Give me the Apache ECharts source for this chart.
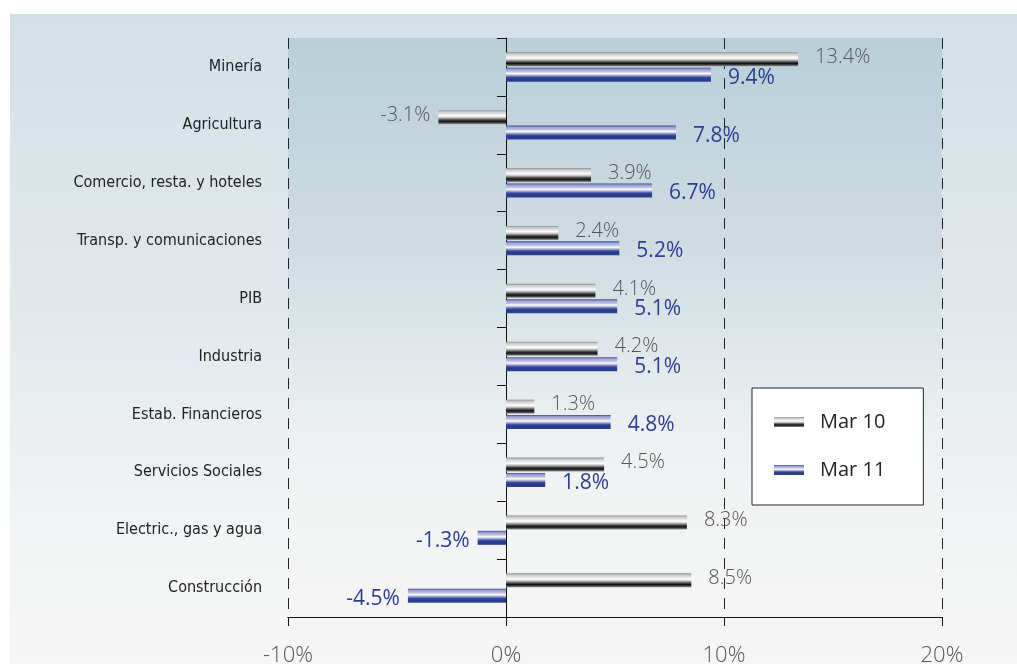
<!DOCTYPE html>
<html>
<head>
<meta charset="utf-8">
<script src="https://cdn.jsdelivr.net/npm/echarts@6/dist/echarts.min.js"></script>
<style>
  html, body { margin: 0; padding: 0; background: #ffffff; }
  #wrap { position: relative; width: 1017px; height: 664px; }
  #panel {
    position: absolute; left: 10px; top: 14px; right: 0; bottom: 0;
    background: linear-gradient(to bottom, #d4e0e7 0%, #e1e8ec 45%, #f2f4f5 80%, #f6f6f6 100%);
  }
  #chart { position: absolute; left: 0; top: 0; width: 1017px; height: 664px; }
</style>
</head>
<body>
<div id="wrap">
  <div id="panel"></div>
  <div id="chart"></div>
</div>
<script>
// Sectors, top to bottom
const categories = [
  'Minería', 'Agricultura', 'Comercio, resta. y hoteles', 'Transp. y comunicaciones',
  'PIB', 'Industria', 'Estab. Financieros', 'Servicios Sociales',
  'Electric., gas y agua', 'Construcción'
];
// Annual growth, %
const mar10 = [13.4, -3.1, 3.9, 2.4, 4.1, 4.2, 1.3, 4.5, 8.3, 8.5];
const mar11 = [9.4, 7.8, 6.7, 5.2, 5.1, 5.1, 4.8, 1.8, -1.3, -4.5];
const seriesNames = ['Mar 10', 'Mar 11'];
const axisTicks = [-10, 0, 10, 20];

const greyBar = {
  type: 'linear', x: 0, y: 0, x2: 0, y2: 1,
  colorStops: [
    { offset: 0, color: '#8e8e8e' }, { offset: 0.12, color: '#c9c9c9' },
    { offset: 0.3, color: '#e9e9e9' }, { offset: 0.42, color: '#ffffff' },
    { offset: 0.55, color: '#bdbdbd' }, { offset: 0.68, color: '#555555' },
    { offset: 0.8, color: '#111111' }, { offset: 0.9, color: '#444444' },
    { offset: 1, color: '#9a9a9a' }
  ]
};
const blueBar = {
  type: 'linear', x: 0, y: 0, x2: 0, y2: 1,
  colorStops: [
    { offset: 0, color: '#3a4a9a' }, { offset: 0.12, color: '#9a9fcc' },
    { offset: 0.3, color: '#c2c4e2' }, { offset: 0.42, color: '#ffffff' },
    { offset: 0.55, color: '#a9acd5' }, { offset: 0.68, color: '#3d4fa0' },
    { offset: 0.8, color: '#25398f' }, { offset: 1, color: '#2f4294' }
  ]
};

function withLabels(values, offsetY) {
  return values.map(v => ({
    value: v,
    label: {
      position: v < 0 ? 'left' : 'right',
      distance: v < 0 ? 8 : 17,
      offset: [0, offsetY]
    }
  }));
}

const valueRange = {
  type: 'value',
  min: axisTicks[0], max: axisTicks[axisTicks.length - 1], interval: 10
};

const chart = echarts.init(document.getElementById('chart'), null, { renderer: 'canvas' });

chart.setOption({
  animation: false,
  backgroundColor: 'transparent',
  grid: {
    left: 288, right: 75, top: 38, bottom: 47,
    outerBoundsMode: 'none',
    containLabel: false,
    show: true, borderWidth: 0,
    backgroundColor: {
      type: 'linear', x: 0, y: 0, x2: 0, y2: 1,
      colorStops: [
        { offset: 0, color: '#b9cfd8' }, { offset: 0.35, color: '#cedce2' },
        { offset: 0.7, color: '#eef1f2' }, { offset: 1, color: '#f5f5f5' }
      ]
    }
  },
  legend: {
    data: seriesNames,
    orient: 'vertical',
    left: 752, top: 388,
    itemWidth: 30, itemHeight: 10, itemGap: 28,
    icon: 'rect',
    backgroundColor: '#ffffff',
    borderColor: '#222222', borderWidth: 1,
    padding: [24, 38, 25, 22],
    textStyle: { fontFamily: 'Open Sans', fontSize: 20, color: '#222222', padding: [0, 0, 0, 11] }
  },
  xAxis: [
    Object.assign({}, valueRange, {
      position: 'bottom',
      z: 1,
      axisLine: { show: true, onZero: false, lineStyle: { color: '#111111', width: 1 } },
      axisTick: { show: true, length: 9, lineStyle: { color: '#111111' } },
      axisLabel: {
        formatter: v => v + '%',
        fontFamily: 'Open Sans', fontWeight: 300, fontSize: 22, lineHeight: 16,
        color: '#555555', margin: 31
      },
      splitLine: { show: true, lineStyle: { color: '#222222', width: 1, type: [11, 9] } }
    }),
    // baseline and tick marks along the bottom edge
    Object.assign({}, valueRange, {
      position: 'bottom',
      z: 1,
      axisLine: { show: true, onZero: false, lineStyle: { color: '#111111', width: 1 } },
      axisTick: { show: true, length: 9, lineStyle: { color: '#111111' } },
      axisLabel: { show: false },
      splitLine: { show: false }
    })
  ],
  yAxis: {
    type: 'category',
    data: categories,
    inverse: true,
    z: 1,
    axisLine: { show: true, onZero: true, lineStyle: { color: '#111111', width: 1 } },
    axisTick: { show: true, length: 9, lineStyle: { color: '#111111' } },
    axisLabel: {
      margin: 26,
      fontFamily: '"DejaVu Sans Condensed", sans-serif',
      fontSize: 16, color: '#222222'
    }
  },
  series: [
    {
      name: seriesNames[0], type: 'bar',
      xAxisIndex: 0,
      data: withLabels(mar10, -2),
      barWidth: 14, barGap: '10%',
      itemStyle: { color: greyBar },
      label: {
        show: true, formatter: p => p.value.toFixed(1) + '%',
        fontFamily: 'Open Sans', fontWeight: 300, fontSize: 20, color: '#555555'
      }
    },
    {
      name: seriesNames[1], type: 'bar',
      xAxisIndex: 0,
      data: withLabels(mar11, 3),
      barWidth: 14, barGap: '10%',
      itemStyle: { color: blueBar },
      label: {
        show: true, formatter: p => p.value.toFixed(1) + '%',
        fontFamily: 'Open Sans', fontSize: 21, color: '#2d3e93'
      }
    }
  ]
});
</script>
</body>
</html>
